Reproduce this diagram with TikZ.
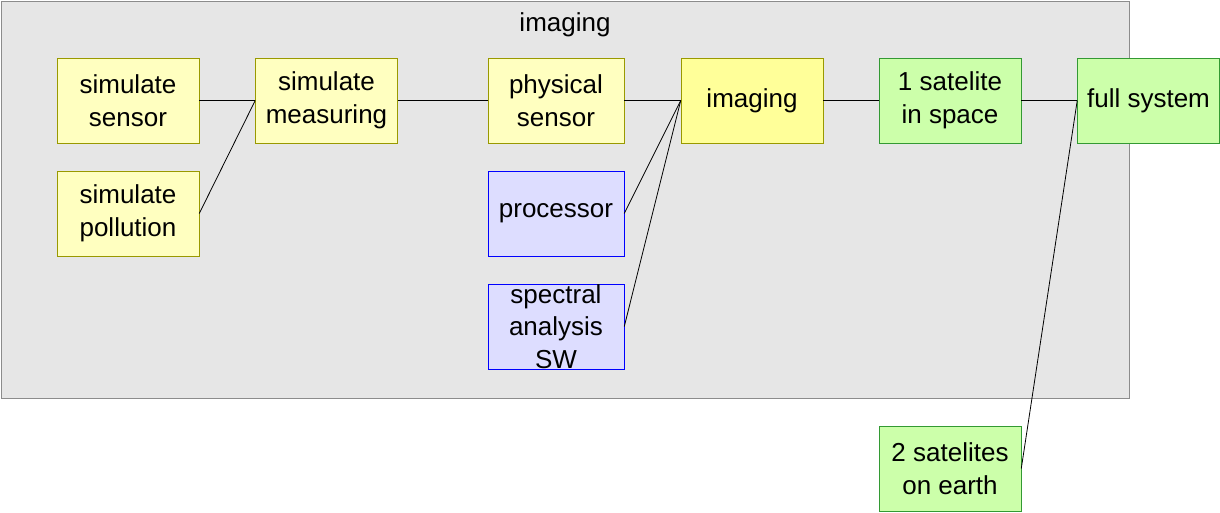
\documentclass[tikz,border=0pt]{standalone}
\usepackage{fontspec}
\setmainfont{Liberation Sans}
\begin{document}
\begin{tikzpicture}[x=0.75pt,y=-0.75pt,
 box/.style={draw,minimum width=142*0.75pt,minimum height=85*0.75pt,inner sep=0pt,align=center,font=\fontsize{19.5}{24.5}\selectfont},
 yel/.style={box,fill={rgb,255:red,255;green,255;blue,192},draw={rgb,255:red,153;green,153;blue,0}},
 yel2/.style={box,fill={rgb,255:red,255;green,255;blue,153},draw={rgb,255:red,153;green,153;blue,0}},
 blu/.style={box,minimum width=136*0.75pt,fill={rgb,255:red,221;green,221;blue,255},draw={rgb,255:red,0;green,0;blue,255}},
 grn/.style={box,fill={rgb,255:red,204;green,255;blue,170},draw={rgb,255:red,51;green,153;blue,51}},
 con/.style={draw,line width=0.6pt}]
\useasboundingbox (0,0) rectangle (1220,512);
\draw[fill={rgb,255:red,230;green,230;blue,230},draw={rgb,255:red,140;green,140;blue,140}] (1,1) rectangle (1129,398);
\node[font=\fontsize{19.5}{24}\selectfont] (title) at (565,25) {imaging};
\node[yel] (ss) at (128,100.5) {simulate\\sensor};
\node[yel] (sp) at (128,213.5) {simulate\\pollution};
\node[yel] (sm) at (326.5,100.5) {simulate\\measuring};
\node[yel,minimum width=136*0.75pt] (ps) at (556,100.5) {physical\\sensor};
\node[blu] (pr) at (556,213.5) {processor};
\node[blu] (sa) at (556,326.5) {spectral\\analysis\\SW};
\node[yel2] (im) at (752,100.5) {imaging};
\node[grn] (s1) at (950,100.5) {1 satelite\\in space};
\node[grn] (fs) at (1148.5,100.5) {full system};
\node[grn] (s2) at (950,468.5) {2 satelites\\on earth};
\draw[con] (ss.east) -- (sm.west);
\draw[con] (sp.east) -- (sm.west);
\draw[con] (sm.east) -- (ps.west);
\draw[con] (ps.east) -- (im.west);
\draw[con] (pr.east) -- (im.west);
\draw[con] (sa.east) -- (im.west);
\draw[con] (im.east) -- (s1.west);
\draw[con] (s1.east) -- (fs.west);
\draw[con] (s2.east) -- (fs.west);
\end{tikzpicture}
\end{document}
